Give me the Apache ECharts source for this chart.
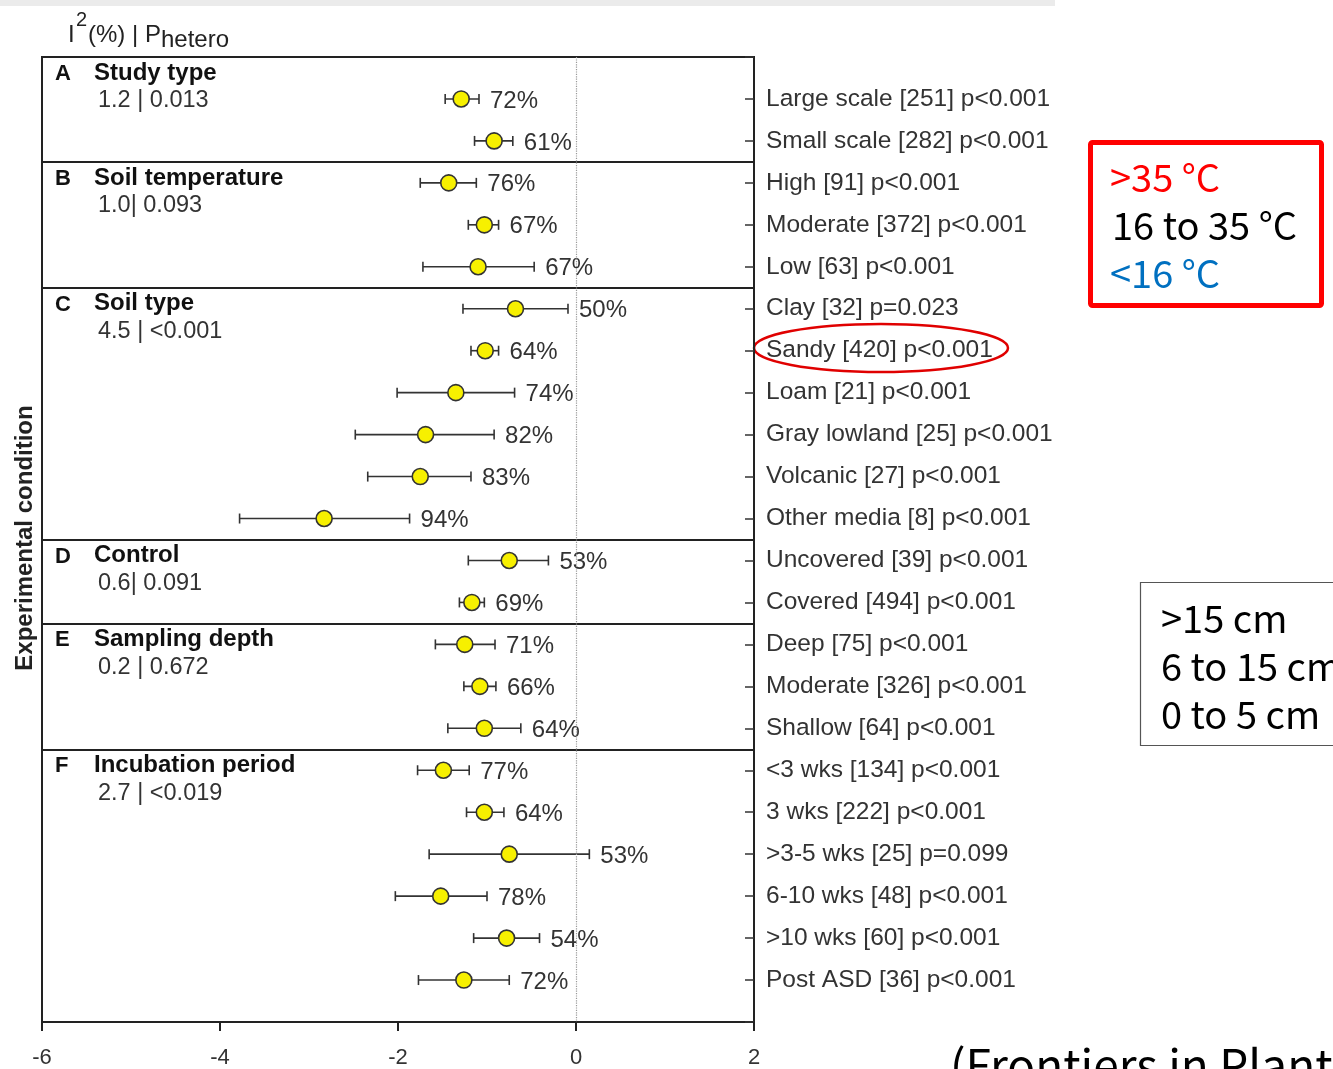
<!DOCTYPE html>
<html><head><meta charset="utf-8">
<script src="https://cdn.jsdelivr.net/npm/echarts@6/dist/echarts.min.js"></script>
<style>html,body{margin:0;padding:0;background:#fff;}#c{width:1333px;height:1069px;}</style>
</head><body><div id="c"></div>
<script>
const categories = [
  'Large scale [251] p<0.001','Small scale [282] p<0.001',
  'High [91] p<0.001','Moderate [372] p<0.001','Low [63] p<0.001',
  'Clay [32] p=0.023','Sandy [420] p<0.001','Loam [21] p<0.001','Gray lowland [25] p<0.001','Volcanic [27] p<0.001','Other media [8] p<0.001',
  'Uncovered [39] p<0.001','Covered [494] p<0.001',
  'Deep [75] p<0.001','Moderate [326] p<0.001','Shallow [64] p<0.001',
  '<3 wks [134] p<0.001','3 wks [222] p<0.001','>3-5 wks [25] p=0.099','6-10 wks [48] p<0.001','>10 wks [60] p<0.001','Post ASD [36] p<0.001'
];
const estimates = [-1.29,-0.92, -1.43,-1.03,-1.10, -0.68,-1.02,-1.35,-1.69,-1.75,-2.83, -0.75,-1.17, -1.25,-1.08,-1.03, -1.49,-1.03,-0.75,-1.52,-0.78,-1.26];
const ciLow     = [-1.47,-1.14, -1.75,-1.21,-1.72, -1.27,-1.18,-2.01,-2.48,-2.34,-3.78, -1.21,-1.31, -1.58,-1.26,-1.44, -1.78,-1.23,-1.65,-2.03,-1.15,-1.77];
const ciHigh    = [-1.09,-0.71, -1.12,-0.87,-0.47, -0.09,-0.87,-0.69,-0.92,-1.18,-1.87, -0.31,-1.03, -0.91,-0.90,-0.62, -1.20,-0.81,0.15,-1.00,-0.41,-0.75];
const i2Labels  = ['72%','61%','76%','67%','67%','50%','64%','74%','82%','83%','94%','53%','69%','71%','66%','64%','77%','64%','53%','78%','54%','72%'];
const groupLetters = ['A','B','C','D','E','F'];
const groupNames = ['Study type','Soil temperature','Soil type','Control','Sampling depth','Incubation period'];
const groupStats = ['1.2 | 0.013','1.0| 0.093','4.5 | <0.001','0.6| 0.091','0.2 | 0.672','2.7 | <0.019'];
const groupSizes = [2,3,6,2,3,6];
const xTicks = [-6,-4,-2,0,2];

const FONT = '"Liberation Sans", Arial, sans-serif';
const CJK = '"Noto Sans CJK JP", sans-serif';

// group boundaries (in row units)
const groupStarts = [];
let acc = 0;
groupSizes.forEach(s => { groupStarts.push(acc === 0 ? 0 : acc + 0.5); acc += s; });
const separators = groupStarts.slice(1);

const chart = echarts.init(document.getElementById('c'));
const option = {
  animation: false,
  backgroundColor: '#fff',
  grid: {left: 42, right: 579, top: 57, bottom: 47, show: true, borderColor: '#222', borderWidth: 2},
  xAxis: {
    type: 'value', min: xTicks[0], max: xTicks[xTicks.length-1], interval: 2,
    axisLine: {show: true, onZero: false, lineStyle: {color: '#222', width: 2}},
    axisTick: {show: true, length: 9, lineStyle: {color: '#222', width: 2}},
    axisLabel: {fontFamily: FONT, fontSize: 22, color: '#333', margin: 25},
    splitLine: {show: false}
  },
  yAxis: {
    type: 'value', position: 'right', inverse: true, min: 0, max: categories.length + 1, interval: 1,
    axisLine: {show: true, onZero: false, lineStyle: {color: '#222', width: 2}},
    axisTick: {show: true, inside: true, length: 9, lineStyle: {color: '#333', width: 1.5}},
    axisLabel: {
      fontFamily: FONT, fontSize: 24.5, color: '#333', margin: 12,
      formatter: v => categories[v - 1] || ''
    },
    splitLine: {show: false}
  },
  series: [
    {
      type: 'custom', name: 'groups', coordinateSystem: 'cartesian2d',
      data: groupStarts.map((g, i) => [xTicks[0], g, i]),
      renderItem: (params, api) => {
        const p = api.coord([api.value(0), api.value(1)]);
        const i = params.dataIndex;
        return {type: 'group', children: [
          {type: 'text', style: {text: groupLetters[i], x: p[0] + 13, y: p[1] + 17, verticalAlign: 'middle', font: 'bold 22px ' + FONT, fill: '#111'}},
          {type: 'text', style: {text: groupNames[i], x: p[0] + 52, y: p[1] + 16, verticalAlign: 'middle', font: 'bold 24px ' + FONT, fill: '#111'}},
          {type: 'text', style: {text: groupStats[i], x: p[0] + 56, y: p[1] + 44, verticalAlign: 'middle', font: '23.5px ' + FONT, fill: '#333'}}
        ]};
      },
      markLine: {
        silent: true, symbol: 'none', label: {show: false},
        lineStyle: {color: '#222', width: 2, type: 'solid'},
        data: separators.map(s => ({yAxis: s}))
      },
      z: 2
    },
    {
      type: 'custom', name: 'ci', coordinateSystem: 'cartesian2d',
      data: categories.map((c, i) => [ciLow[i], ciHigh[i], i + 1]),
      renderItem: (params, api) => {
        const lo = api.coord([api.value(0), api.value(2)]);
        const hi = api.coord([api.value(1), api.value(2)]);
        const cap = 5;
        const st = {stroke: '#333', lineWidth: 1.6};
        return {type: 'group', children: [
          {type: 'line', shape: {x1: lo[0], y1: lo[1], x2: hi[0], y2: hi[1]}, style: st},
          {type: 'line', shape: {x1: lo[0], y1: lo[1] - cap, x2: lo[0], y2: lo[1] + cap}, style: st},
          {type: 'line', shape: {x1: hi[0], y1: hi[1] - cap, x2: hi[0], y2: hi[1] + cap}, style: st},
          {type: 'text', style: {text: i2Labels[params.dataIndex], x: hi[0] + 11, y: hi[1] + 2, verticalAlign: 'middle', font: '24px ' + FONT, fill: '#333'}}
        ]};
      },
      z: 3
    },
    {
      type: 'scatter', name: 'est',
      data: categories.map((c, i) => [estimates[i], i + 1]),
      symbol: 'circle', symbolSize: 16,
      itemStyle: {color: '#f7f000', borderColor: '#333', borderWidth: 1.6, opacity: 1},
      markLine: {
        silent: true, symbol: 'none', label: {show: false},
        lineStyle: {color: '#999', width: 1.2, type: 'dotted'},
        data: [{xAxis: 0}]
      },
      z: 4
    }
  ],
  graphic: [
    {type: 'rect', shape: {x: 0, y: 0, width: 1055, height: 6}, style: {fill: '#ebebeb'}, silent: true},
    {type: 'text', x: 68, y: 35, style: {text: 'I', font: '24px ' + FONT, fill: '#222', verticalAlign: 'middle'}},
    {type: 'text', x: 76, y: 20, style: {text: '2', font: '20px ' + FONT, fill: '#222', verticalAlign: 'middle'}},
    {type: 'text', x: 88, y: 35, style: {text: '(%) | P', font: '24px ' + FONT, fill: '#222', verticalAlign: 'middle'}},
    {type: 'text', x: 161, y: 40, style: {text: 'hetero', font: '24px ' + FONT, fill: '#222', verticalAlign: 'middle'}},
    {type: 'text', x: 25, y: 538, rotation: Math.PI / 2, style: {text: 'Experimental condition', font: 'bold 24px ' + FONT, fill: '#222', align: 'center', verticalAlign: 'middle'}},
    {type: 'ellipse', shape: {cx: 881, cy: 348, rx: 127, ry: 24}, style: {fill: 'none', stroke: '#e00000', lineWidth: 2.5}},
    {type: 'rect', shape: {x: 1090.5, y: 142.5, width: 231, height: 163, r: 2}, style: {fill: '#fff', stroke: '#ff0000', lineWidth: 5}},
    {type: 'text', x: 1110, y: 178, style: {text: '>35 °C', font: '38px ' + CJK, fill: '#ff0000', verticalAlign: 'middle'}},
    {type: 'text', x: 1112, y: 226, style: {text: '16 to 35 °C', font: '38px ' + CJK, fill: '#000', verticalAlign: 'middle'}},
    {type: 'text', x: 1110, y: 274, style: {text: '<16 °C', font: '38px ' + CJK, fill: '#0070c0', verticalAlign: 'middle'}},
    {type: 'rect', shape: {x: 1140.5, y: 582.5, width: 220, height: 163}, style: {fill: '#fff', stroke: '#555', lineWidth: 1.2}},
    {type: 'text', x: 1161, y: 619, style: {text: '>15 cm', font: '38px ' + CJK, fill: '#000', verticalAlign: 'middle'}},
    {type: 'text', x: 1161, y: 667, style: {text: '6 to 15 cm', font: '38px ' + CJK, fill: '#000', verticalAlign: 'middle'}},
    {type: 'text', x: 1161, y: 715, style: {text: '0 to 5 cm', font: '38px ' + CJK, fill: '#000', verticalAlign: 'middle'}},
    {type: 'text', x: 950, y: 1066, style: {text: '(Frontiers in Plant', font: '46px ' + CJK, fill: '#000', verticalAlign: 'middle'}}
  ]
};
chart.setOption(option);
</script>
</body></html>
